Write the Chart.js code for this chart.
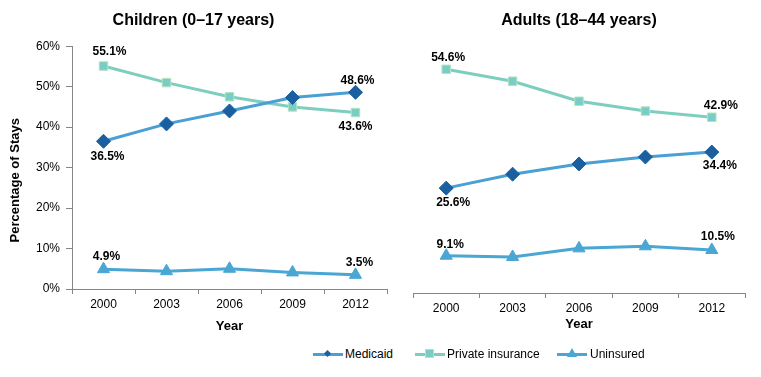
<!DOCTYPE html>
<html>
<head>
<meta charset="utf-8">
<script src="https://cdn.jsdelivr.net/npm/chart.js@4.4.1/dist/chart.umd.min.js"></script>
<style>
    body { margin: 0; background: #fff; font-family: "Liberation Sans", Arial, sans-serif; }
    #wrap { position: relative; width: 761px; height: 377px; overflow: hidden; }
    .panel { position: absolute; top: 0; height: 345px; }
    #p-left { left: 0; width: 400px; }
    #p-right { left: 390px; width: 371px; }
    .lg-item { position: absolute; top: 346px; height: 16px; font-size: 12px; line-height: 16px; color: #000; }
    .lg-line { position: absolute; top: 7px; height: 3px; }
    .lg-mark { position: absolute; }
</style>
</head>
<body>
<div id="wrap">
    <div class="panel" id="p-left"><canvas id="c-left"></canvas></div>
    <div class="panel" id="p-right"><canvas id="c-right"></canvas></div>

    <div class="lg-item" style="left:313px;width:90px;">
        <div class="lg-line" style="left:0;width:30px;background:#4a9fd4;"></div>
        <div class="lg-mark" style="left:12px;top:5px;width:5px;height:5px;background:#1a5fa0;transform:rotate(45deg);"></div>
        <span style="position:absolute;left:32px;">Medicaid</span>
    </div>
    <div class="lg-item" style="left:415px;width:140px;">
        <div class="lg-line" style="left:0;width:30px;background:#7ecec0;"></div>
        <div class="lg-mark" style="left:10px;top:3px;width:9px;height:9px;background:#7acdc4;border:1px solid #b5e3c0;box-sizing:border-box;"></div>
        <span style="position:absolute;left:32px;">Private insurance</span>
    </div>
    <div class="lg-item" style="left:557px;width:110px;">
        <div class="lg-line" style="left:0;width:30px;background:#4aa6d3;"></div>
        <div class="lg-mark" style="left:10px;top:2px;width:0;height:0;border-left:5px solid transparent;border-right:5px solid transparent;border-bottom:9px solid #4aa6d3;"></div>
        <span style="position:absolute;left:33px;">Uninsured</span>
    </div>
</div>

<script>
// values (percent of stays)
const years = ['2000', '2003', '2006', '2009', '2012'];
const yTicks = [0, 10, 20, 30, 40, 50, 60];

const childMedicaid = [36.5, 40.8, 44.0, 47.3, 48.6];
const childPrivate = [55.1, 51.0, 47.5, 45.0, 43.6];
const childUninsured = [4.9, 4.4, 5.0, 4.1, 3.5];

const adultMedicaid = [25.6, 29.0, 31.5, 33.2, 34.4];
const adultPrivate = [54.6, 51.7, 46.8, 44.4, 42.9];
const adultUninsured = [9.1, 8.8, 10.9, 11.4, 10.5];

const FONT = '"Liberation Sans", Arial, sans-serif';
const AXIS = '#868686';

// dataset index: 0 medicaid, 1 private, 2 uninsured
const childLabels = [
    { ds: 1, i: 0, dx: 6, dy: -14 }, { ds: 1, i: 4, dx: 0, dy: 14 },
    { ds: 0, i: 0, dx: 4, dy: 15 }, { ds: 0, i: 4, dx: 2, dy: -12 },
    { ds: 2, i: 0, dx: 3, dy: -12 }, { ds: 2, i: 4, dx: 4, dy: -12 },
];
const adultLabels = [
    { ds: 1, i: 0, dx: 2, dy: -12 }, { ds: 1, i: 4, dx: 9, dy: -12 },
    { ds: 0, i: 0, dx: 7, dy: 15 }, { ds: 0, i: 4, dx: 8, dy: 14 },
    { ds: 2, i: 0, dx: 4, dy: -11 }, { ds: 2, i: 4, dx: 6, dy: -13 },
];

const pointLabels = {
    id: 'pointLabels',
    afterDatasetsDraw(chart, args, opts) {
        const ctx = chart.ctx;
        ctx.save();
        ctx.font = 'bold 12px ' + FONT;
        ctx.fillStyle = '#000';
        ctx.textAlign = 'center';
        ctx.textBaseline = 'middle';
        (opts.items || []).forEach((it) => {
            const pt = chart.getDatasetMeta(it.ds).data[it.i];
            const v = chart.data.datasets[it.ds].data[it.i];
            ctx.fillText(v.toFixed(1) + '%', pt.x + it.dx, pt.y + it.dy);
        });
        ctx.restore();
    },
};

function datasets(med, priv, unins) {
    return [
        { label: 'Medicaid', data: med, borderColor: '#4a9fd4', borderWidth: 3,
          pointStyle: 'rectRot', pointRadius: 7, pointBackgroundColor: '#1a5fa0', pointBorderColor: '#1a5fa0', pointBorderWidth: 1 },
        { label: 'Private insurance', data: priv, borderColor: '#7ecec0', borderWidth: 3,
          pointStyle: 'rect', pointRadius: 6, pointBackgroundColor: '#7acdc4', pointBorderColor: '#b5e3c0', pointBorderWidth: 1 },
        { label: 'Uninsured', data: unins, borderColor: '#4aa6d3', borderWidth: 3,
          pointStyle: 'triangle', pointRadius: 7, pointBackgroundColor: '#4aa6d3', pointBorderColor: '#4aa6d3', pointBorderWidth: 1 },
    ].map((d) => ({ ...d, tension: 0, fill: false }));
}

function makeChart(id, title, data, items, side) {
    const isLeft = side === 'left';
    return new Chart(document.getElementById(id), {
        type: 'line',
        data: { labels: years, datasets: data },
        plugins: [pointLabels],
        options: {
            responsive: true,
            maintainAspectRatio: false,
            animation: false,
            layout: { padding: isLeft ? { left: 0, right: 13, top: 0, bottom: 0 } : { left: 23, right: 16, top: 0, bottom: 0 } },
            plugins: {
                legend: { display: false },
                tooltip: { enabled: false },
                title: {
                    display: true, text: title, color: '#000',
                    font: { family: FONT, size: 16, weight: 'bold' },
                    padding: isLeft ? { top: 11, bottom: 16 } : { top: 11, bottom: 17 },
                },
                pointLabels: { items },
            },
            scales: {
                x: {
                    offset: true,
                    border: { display: true, color: AXIS, width: 1 },
                    grid: { display: true, offset: true, drawOnChartArea: false, drawTicks: true, tickLength: 5, color: AXIS },
                    ticks: { color: '#000', padding: 3, font: { family: FONT, size: 12 }, maxRotation: 0 },
                    title: { display: true, text: 'Year', color: '#000', font: { family: FONT, size: 13, weight: 'bold' },
                             padding: { top: 0, bottom: isLeft ? 11 : 13 } },
                    afterFit: (s) => { s.height = isLeft ? 56 : 52; },
                },
                y: {
                    display: isLeft,
                    min: 0, max: 60,
                    afterBuildTicks: (s) => { s.ticks = yTicks.map((v) => ({ value: v })); },
                    border: { display: true, color: AXIS, width: 1 },
                    grid: { display: true, drawOnChartArea: false, drawTicks: true, tickLength: 6, color: AXIS },
                    ticks: { color: '#000', padding: 6, font: { family: FONT, size: 12 }, callback: (v) => v + '%' },
                    title: { display: true, text: 'Percentage of Stays       ', color: '#000', font: { family: FONT, size: 13, weight: 'bold' },
                             padding: { top: 8, bottom: 0 } },
                    afterFit: (s) => { s.width = isLeft ? 72 : 0; },
                },
            },
        },
    });
}

makeChart('c-left', 'Children (0\u201317 years)', datasets(childMedicaid, childPrivate, childUninsured), childLabels, 'left');
makeChart('c-right', 'Adults (18\u201344 years)', datasets(adultMedicaid, adultPrivate, adultUninsured), adultLabels, 'right');
</script>
</body>
</html>
